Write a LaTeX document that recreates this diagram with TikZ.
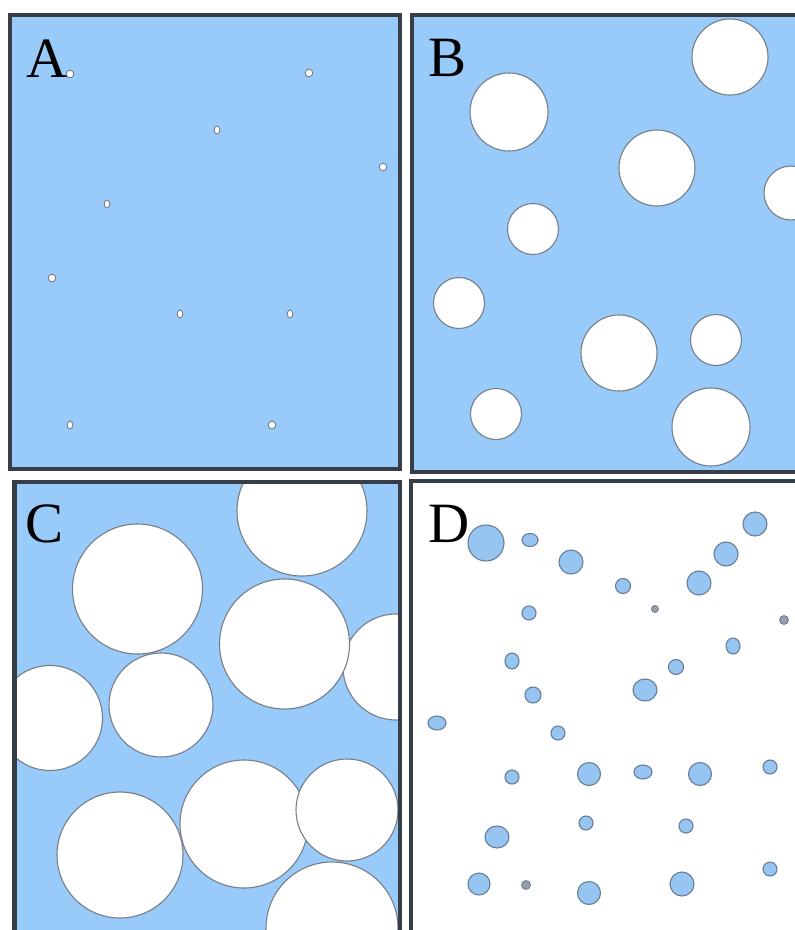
\documentclass[tikz,border=0pt]{standalone}
\usepackage{fontspec}
\setmainfont{Liberation Serif}
\definecolor{bgblue}{RGB}{152,202,250}
\definecolor{framec}{RGB}{55,62,72}
\definecolor{holeline}{RGB}{120,126,136}
\definecolor{dropfill}{RGB}{150,197,242}
\definecolor{dropline}{RGB}{105,125,152}
\definecolor{dotfill}{RGB}{150,158,170}
\tikzset{
  panelframe/.style={draw=framec, line width=4.5pt},
  hole/.style={draw=holeline, fill=white, line width=1.1pt},
  tinyhole/.style={draw=holeline, fill=white, line width=0.9pt},
  drop/.style={draw=dropline, fill=dropfill, line width=1.1pt},
  dot/.style={draw=dropline, fill=dotfill, line width=0.8pt},
  letter/.style={anchor=base west, inner sep=0pt, font=\fontsize{57}{57}\selectfont}
}
\begin{document}
\begin{tikzpicture}[x=1pt,y=-1pt]
\useasboundingbox (0,0) rectangle (795,930);
\clip (0,0) rectangle (795,930);
% ---------- Panel A ----------
\fill[bgblue] (10,15) rectangle (400,469);
\foreach \x/\y in {70/74, 309/73, 383/167, 52/278, 272/425}
  \draw[tinyhole] (\x,\y) circle[radius=3.8pt];
\foreach \x/\y in {217/130, 107/204, 180/314, 290/314, 70/425}
  \draw[tinyhole] (\x,\y) ellipse[x radius=2.8pt, y radius=4pt];
\draw[panelframe] (10,15) rectangle (400,469);
\node[letter] (labA) at (26,77) {A};
% ---------- Panel B ----------
\begin{scope}
\fill[bgblue] (412,15) rectangle (805,472);
\clip (412,15) rectangle (805,472);
\foreach \x/\y/\r in {730/57/38, 509/112/39, 657/168/38, 791/193/27, 533/229/25.5,
  459/303/25.5, 619/353/38, 716/340/25.5, 496/414/25.5, 711/427/39}
  \draw[hole] (\x,\y) circle[radius=\r pt];
\end{scope}
\draw[panelframe] (412,15) rectangle (805,472);
\node[letter] (labB) at (428,76) {B};
% ---------- Panel C ----------
\begin{scope}
\fill[bgblue] (14.5,482) rectangle (400,945);
\clip (14.5,482) rectangle (400,945);
\foreach \x/\y/\r in {302/511/65, 137.5/589/65, 396/667/53, 284.5/644/65, 50/718/52.5,
  161/705/52, 120/855/63, 244/824/64, 347/810/51, 332/928/66}
  \draw[hole] (\x,\y) circle[radius=\r pt];
\end{scope}
\draw[panelframe] (14.5,482) rectangle (400,945);
\node[letter] (labC) at (25,542) {C};
% ---------- Panel D ----------
\begin{scope}
\fill[white] (411,481) rectangle (805,945);
\foreach \x/\y/\r in {486/543/18, 571/562/12, 623/586/7.5, 699/583/12, 726/554/12,
  755/524/12, 529/613/7, 676/667/7.5, 533/695/8, 558/733/7, 512/777/7, 589/774/11.5,
  700/774/11.5, 770/767/7, 586/823/7, 686/826/7, 479/884/11, 589/893/11.5,
  682/884/12, 770/869/7}
  \draw[drop] (\x,\y) circle[radius=\r pt];
\foreach \x/\y/\rx/\ry in {530/540/8/6.5, 512/661/7/8, 733/646/7/8, 645/690/12/11,
  437/723/9/7, 643/772/9/7, 497/837/12/11}
  \draw[drop] (\x,\y) ellipse[x radius=\rx pt, y radius=\ry pt];
\foreach \x/\y/\r in {655/609/3.5, 784/620/4.5, 526/885/4.5}
  \draw[dot] (\x,\y) circle[radius=\r pt];
\end{scope}
\draw[panelframe] (411,481) rectangle (805,945);
\node[letter] (labD) at (428,542) {D};
\end{tikzpicture}
\end{document}
